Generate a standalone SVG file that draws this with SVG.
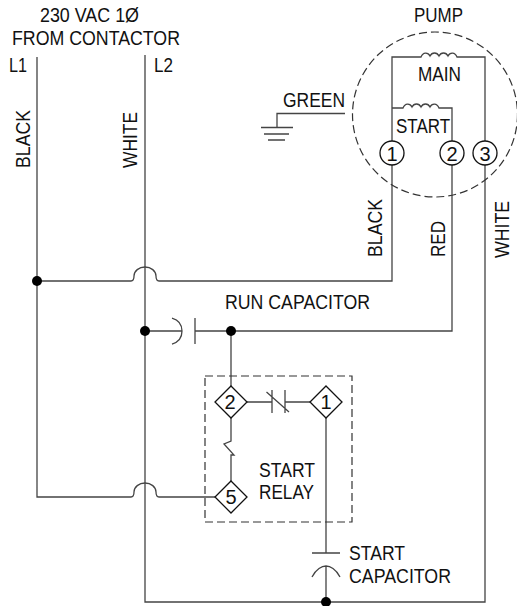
<svg xmlns="http://www.w3.org/2000/svg" width="517" height="606" viewBox="0 0 517 606">
<style>
text{font-family:"Liberation Sans",Arial,sans-serif;font-size:20px;fill:#111}
.w{fill:none;stroke:#444;stroke-width:1.3}
.d{fill:none;stroke:#333;stroke-width:1.2;stroke-dasharray:8 4}
.t{fill:#fff;stroke:#111;stroke-width:1.3}
.j{fill:#000}
.m{text-anchor:middle}
</style>
<rect width="517" height="606" fill="#fff"/>
<g id="connectors">
<path class="w" d="M37 57V497H131C133 497 134 495 134 492C134 487 139 483 145 483C151 483 156 487 156 492C156 495 157 497 159 497H215"/>
<path class="w" d="M145 55V602H485V57H457C455 52 450 52 448 56C446 52 441 52 439 56C437 52 432 52 430 56C428 52 423 52 421 57H392V141"/>
<path class="w" d="M37 281H131C133 281 134 279 134 276C134 271 139 267 145 267C151 267 156 271 156 276C156 279 157 281 159 281H392V165"/>
<path class="w" d="M392 108H403C405 103 410 103 412 107C414 103 419 103 421 107C423 103 428 103 430 107C432 103 437 103 439 108H452V141"/>
<path class="w" d="M145 331H182M172 318C179 320 182 325 182 331C182 337 179 342 172 344M195 318V344M195 331H452V165"/>
<path class="w" d="M231 331V386M231 418V441L224 444L234 455H231V481"/>
<path class="w" d="M247 402H272M272 390V413M285 390V413M285 402H310M266.500 392L289 412"/>
<path class="w" d="M326 418V553M312 553H340M312 577C316 569 322 566 326 566C330 566 336 569 340 577M326 566V602"/>
<path class="w" d="M277 127V113.500H345M261 127.500H293M264 134H289M268 140H285"/>
<circle class="j" cx="37" cy="281" r="5"/>
<circle class="j" cx="145" cy="331" r="5"/>
<circle class="j" cx="231" cy="331" r="5"/>
<circle class="j" cx="326" cy="602" r="5"/>
</g>
<g id="pump"><circle class="d" cx="435" cy="114.500" r="82.500"/>
<text x="414" y="22" textLength="49" lengthAdjust="spacingAndGlyphs">PUMP</text>
<text x="418" y="81" textLength="43" lengthAdjust="spacingAndGlyphs">MAIN</text>
<text x="396" y="133" textLength="54" lengthAdjust="spacingAndGlyphs">START</text></g>
<g id="terminal-p1"><circle class="t" cx="392" cy="153" r="12"/><text class="m" x="392" y="161">1</text></g>
<g id="terminal-p2"><circle class="t" cx="452" cy="153" r="12"/><text class="m" x="452" y="161">2</text></g>
<g id="terminal-p3"><circle class="t" cx="485" cy="153" r="12"/><text class="m" x="485" y="161">3</text></g>
<g id="relay"><rect class="d" x="205" y="376" width="147" height="146"/>
<text x="259" y="477" textLength="56" lengthAdjust="spacingAndGlyphs">START</text>
<text x="259" y="499" textLength="55" lengthAdjust="spacingAndGlyphs">RELAY</text></g>
<g id="relay-2"><path class="t" d="M231 386L247 402L231 418L215 402Z"/><text class="m" x="230" y="409">2</text></g>
<g id="relay-1"><path class="t" d="M326 386L342 402L326 418L310 402Z"/><text class="m" x="326" y="409">1</text></g>
<g id="relay-5"><path class="t" d="M231 481L247 497L231 513L215 497Z"/><text class="m" x="231" y="504">5</text></g>
<g id="labels">
<text x="40" y="22" textLength="99" lengthAdjust="spacingAndGlyphs">230 VAC 1Ø</text>
<text x="12" y="45" textLength="168" lengthAdjust="spacingAndGlyphs">FROM CONTACTOR</text>
<text x="9" y="72" textLength="18" lengthAdjust="spacingAndGlyphs">L1</text>
<text x="154" y="72" textLength="19" lengthAdjust="spacingAndGlyphs">L2</text>
<text x="283" y="107" textLength="62" lengthAdjust="spacingAndGlyphs">GREEN</text>
<text x="225" y="309" textLength="145" lengthAdjust="spacingAndGlyphs">RUN CAPACITOR</text>
<text x="349" y="560" textLength="56" lengthAdjust="spacingAndGlyphs">START</text>
<text x="349" y="583" textLength="102" lengthAdjust="spacingAndGlyphs">CAPACITOR</text>
<text transform="translate(30 168) rotate(-90)" textLength="58" lengthAdjust="spacingAndGlyphs">BLACK</text>
<text transform="translate(137 168) rotate(-90)" textLength="56" lengthAdjust="spacingAndGlyphs">WHITE</text>
<text transform="translate(382 257) rotate(-90)" textLength="58" lengthAdjust="spacingAndGlyphs">BLACK</text>
<text transform="translate(445 257) rotate(-90)" textLength="36" lengthAdjust="spacingAndGlyphs">RED</text>
<text transform="translate(509 258) rotate(-90)" textLength="57" lengthAdjust="spacingAndGlyphs">WHITE</text>
</g>
</svg>
